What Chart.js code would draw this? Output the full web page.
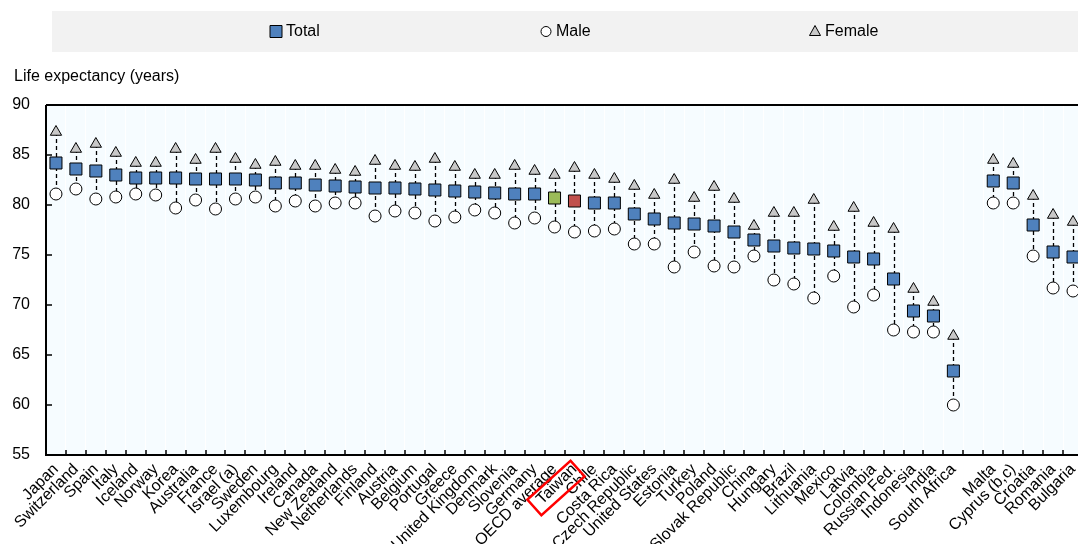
<!DOCTYPE html>
<html>
<head>
<meta charset="utf-8">
<script src="https://cdn.jsdelivr.net/npm/chart.js@4/dist/chart.umd.min.js"></script>
<style>
	html, body { margin: 0; padding: 0; background: #fff; overflow: hidden; }
	#wrap { width: 1078px; height: 544px; overflow: hidden; }
</style>
</head>
<body>
<div id="wrap"><canvas id="lifeExp" width="1084" height="544"></canvas></div>
<script>
const countries = ['Japan','Switzerland','Spain','Italy','Iceland','Norway','Korea','Australia','France','Israel (a)',
	'Sweden','Luxembourg','Ireland','Canada','New Zealand','Netherlands','Finland','Austria','Belgium','Portugal',
	'Greece','United Kingdom','Denmark','Slovenia','Germany','OECD average','Taiwan','Chile','Costa Rica','Czech Republic',
	'United States','Estonia','Turkey','Poland','Slovak Republic','China','Hungary','Brazil','Lithuania','Mexico',
	'Latvia','Colombia','Russian Fed.','Indonesia','India','South Africa','','Malta','Cyprus (b,c)','Croatia',
	'Romania','Bulgaria'];

const totalLE = [84.2,83.6,83.4,83.0,82.7,82.7,82.7,82.6,82.6,82.6,
	82.5,82.2,82.2,82.0,81.9,81.8,81.7,81.7,81.6,81.5,
	81.4,81.3,81.2,81.1,81.1,80.7,80.4,80.2,80.2,79.1,
	78.6,78.2,78.1,77.9,77.3,76.5,75.9,75.7,75.6,75.4,
	74.8,74.6,72.6,69.4,68.9,63.4,null,82.4,82.2,78.0,
	75.3,74.8];

const maleLE = [81.1,81.6,80.6,80.8,81.1,81.0,79.7,80.5,79.6,80.6,
	80.8,79.9,80.4,79.9,80.2,80.2,78.9,79.4,79.2,78.4,
	78.8,79.5,79.2,78.2,78.7,77.8,77.3,77.4,77.6,76.1,
	76.1,73.8,75.3,73.9,73.8,74.9,72.5,72.1,70.7,72.9,
	69.8,71.0,67.5,67.3,67.3,60.0,null,80.2,80.2,74.9,
	71.7,71.4];

const femaleLE = [87.3,85.6,86.1,85.2,84.2,84.2,85.6,84.5,85.6,84.6,
	84.0,84.3,83.9,83.9,83.5,83.3,84.4,83.9,83.8,84.6,
	83.8,83.0,83.0,83.9,83.4,83.0,83.7,83.0,82.6,81.9,
	81.0,82.5,80.7,81.8,80.6,77.9,79.2,79.2,80.5,77.8,
	79.7,78.2,77.6,71.6,70.3,66.9,null,84.5,84.1,80.9,
	79.0,78.3];

const yTicks = [55, 60, 65, 70, 75, 80, 85, 90];
const legendNames = ['Total', 'Male', 'Female'];
const highlightLabel = 'Taiwan';

const FONT = "'Liberation Sans', Arial, sans-serif";
const BLUE = '#4F81BD';
const GREEN = '#9BBB59';
const RED = '#C0504D';
const GREY = '#C8C8C8';

// square colours: OECD average green, Taiwan red
let totalColors = countries.map(function (c) {
	if (c === 'OECD average') return GREEN;
	if (c === 'Taiwan') return RED;
	return BLUE;
});

function drawMarker(ctx, style, x, y) {
	ctx.beginPath();
	if (style === 'rect') {
		ctx.rect(x - 6, y - 6, 12, 12);
		ctx.fillStyle = BLUE;
	} else if (style === 'circle') {
		ctx.arc(x, y, 5, 0, Math.PI * 2);
		ctx.fillStyle = '#fff';
	} else {
		ctx.moveTo(x, y - 6);
		ctx.lineTo(x + 5.5, y + 4);
		ctx.lineTo(x - 5.5, y + 4);
		ctx.closePath();
		ctx.fillStyle = GREY;
	}
	ctx.fill();
	ctx.lineWidth = 1;
	ctx.strokeStyle = '#000';
	ctx.stroke();
}

const decor = {
	id: 'decor',
	beforeDraw(chart) {
		let ctx = chart.ctx;
		let a = chart.chartArea;
		ctx.save();
		ctx.fillStyle = '#fff';
		ctx.fillRect(0, 0, chart.width, chart.height);
		ctx.fillStyle = '#F6FCFF';
		ctx.fillRect(a.left, a.top, a.right - a.left, a.bottom - a.top);
		ctx.restore();
	},
	beforeDatasetsDraw(chart) {
		// dashed drop line from female to male
		let ctx = chart.ctx;
		let xs = chart.scales.x, ys = chart.scales.y;
		ctx.save();
		ctx.strokeStyle = '#000';
		ctx.lineWidth = 1.3;
		ctx.setLineDash([4, 3]);
		countries.forEach(function (c, i) {
			if (femaleLE[i] === null) return;
			let x = Math.round(xs.getPixelForValue(i)) + 0.5;
			ctx.beginPath();
			ctx.moveTo(x, ys.getPixelForValue(femaleLE[i]));
			ctx.lineTo(x, ys.getPixelForValue(maleLE[i]));
			ctx.stroke();
		});
		ctx.restore();
	},
	afterDraw(chart) {
		let ctx = chart.ctx;
		let a = chart.chartArea;
		let xs = chart.scales.x, ys = chart.scales.y;
		ctx.save();
		// axes and top frame
		ctx.strokeStyle = '#000';
		ctx.lineWidth = 2;
		ctx.beginPath();
		ctx.moveTo(a.left, a.top);
		ctx.lineTo(a.right, a.top);
		ctx.moveTo(a.left, a.top);
		ctx.lineTo(a.left, a.bottom);
		ctx.lineTo(a.right, a.bottom);
		ctx.stroke();
		// inner tick marks
		ctx.lineWidth = 1.5;
		ctx.beginPath();
		for (let i = 1; i < countries.length; i++) {
			let x = Math.round((xs.getPixelForValue(i - 1) + xs.getPixelForValue(i)) / 2);
			ctx.moveTo(x, a.bottom);
			ctx.lineTo(x, a.bottom - 5);
		}
		yTicks.forEach(function (v) {
			let y = Math.round(ys.getPixelForValue(v));
			ctx.moveTo(a.left, y);
			ctx.lineTo(a.left + 6, y);
		});
		ctx.stroke();

		// legend band
		ctx.fillStyle = '#F2F2F2';
		ctx.fillRect(52, 11, 1026, 41);
		let styles = ['rect', 'circle', 'triangle'];
		let lx = [276, 546, 815];
		ctx.font = '16px ' + FONT;
		ctx.textBaseline = 'middle';
		legendNames.forEach(function (n, i) {
			drawMarker(ctx, styles[i], lx[i], 31.5);
			ctx.fillStyle = '#000';
			ctx.textAlign = 'left';
			ctx.fillText(n, lx[i] + 10, 32);
		});

		// axis caption
		ctx.fillStyle = '#000';
		ctx.textAlign = 'left';
		ctx.fillText('Life expectancy (years)', 14, 77);

		// red box round the Taiwan label
		let ti = countries.indexOf(highlightLabel);
		let tx = xs.getPixelForValue(ti);
		ctx.translate(tx - 18.5, a.bottom + 33);
		ctx.rotate(-Math.PI / 4.3);
		ctx.strokeStyle = '#FF0000';
		ctx.lineWidth = 2.5;
		ctx.strokeRect(-29, -10.5, 58, 21);
		ctx.restore();
	}
};

let ctx = document.getElementById('lifeExp').getContext('2d');
let chart = new Chart(ctx, {
	type: 'line',
	data: {
		labels: countries,
		datasets: [{
			label: 'Total',
			data: totalLE,
			showLine: false,
			pointStyle: 'rect',
			pointRadius: 8.5,
			pointBackgroundColor: totalColors,
			pointBorderColor: '#000',
			pointBorderWidth: 1
		}, {
			label: 'Male',
			data: maleLE,
			showLine: false,
			pointStyle: 'circle',
			pointRadius: 6,
			pointBackgroundColor: '#fff',
			pointBorderColor: '#000',
			pointBorderWidth: 1
		}, {
			label: 'Female',
			data: femaleLE,
			showLine: false,
			pointStyle: 'triangle',
			pointRadius: 6.5,
			pointBackgroundColor: GREY,
			pointBorderColor: '#000',
			pointBorderWidth: 1
		}]
	},
	options: {
		responsive: false,
		animation: false,
		events: [],
		layout: { autoPadding: false, padding: { top: 105, right: 1, left: 0, bottom: 0 } },
		plugins: {
			legend: { display: false },
			tooltip: { enabled: false }
		},
		scales: {
			x: {
				offset: true,
				grid: { display: true, offset: true, color: '#ffffff', lineWidth: 1, drawTicks: false },
				border: { display: false },
				ticks: {
					autoSkip: false,
					minRotation: 45,
					maxRotation: 45,
					padding: 5,
					color: '#000',
					font: { family: FONT, size: 16 }
				},
				afterFit: function (scale) {
					scale.height = 89;
					scale.paddingLeft = 0;
					scale.paddingRight = 0;
				}
			},
			y: {
				min: 55,
				max: 90,
				grid: { display: false, drawTicks: false },
				border: { display: false },
				ticks: {
					stepSize: 5,
					padding: 16,
					color: '#000',
					font: { family: FONT, size: 16 }
				},
				afterFit: function (scale) { scale.width = 46; }
			}
		}
	},
	plugins: [decor]
});
</script>
</body>
</html>
